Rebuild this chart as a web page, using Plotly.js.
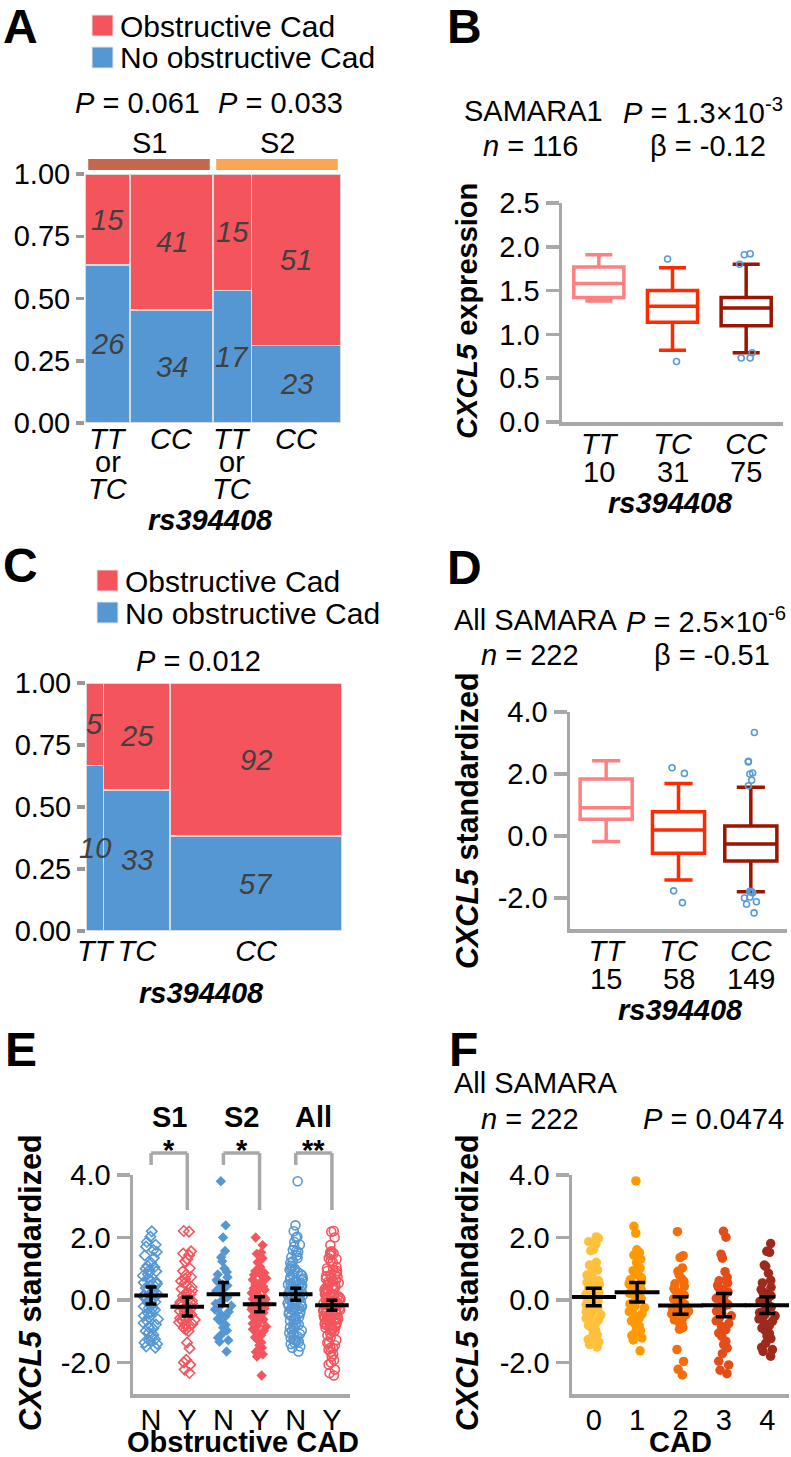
<!DOCTYPE html>
<html>
<head>
<meta charset="utf-8">
<script src="https://cdn.plot.ly/plotly-3.0.1.min.js"></script>
<style>
html, body { margin: 0; padding: 0; background: #fff; }
#fig { width: 791px; height: 1457px; }
</style>
</head>
<body>
<div id="fig"></div>
<script>
const W = 791, H = 1457;
const FONT = 'Liberation Sans, Arial, Helvetica, sans-serif';

// ---- A: mosaic, split by study ----
const studyA = ['S1', 'S1', 'S2', 'S2'];
const genoA = ['TT or TC', 'CC', 'TT or TC', 'CC'];
const obsA = [15, 41, 15, 51];
const noObsA = [26, 34, 17, 23];
const pA = ['0.061', '0.033'];

// ---- C: mosaic, all samara ----
const genoC = ['TT', 'TC', 'CC'];
const obsC = [5, 25, 92];
const noObsC = [10, 33, 57];

// ---- B: box stats, SAMARA1 ----
const genoB = ['TT', 'TC', 'CC'];
const nB = [10, 31, 75];
const lowB = [1.38, 0.82, 0.79];
const q1B = [1.42, 1.14, 1.10];
const medB = [1.58, 1.32, 1.30];
const q3B = [1.77, 1.50, 1.42];
const highB = [1.91, 1.76, 1.80];
const outB = [[], [1.86, 0.69], [1.92, 1.91, 1.80, 0.79, 0.73, 0.73]];

// ---- D: box stats, all SAMARA ----
const nD = [15, 58, 149];
const lowD = [-0.18, -1.42, -1.80];
const q1D = [0.54, -0.56, -0.81];
const medD = [0.91, 0.19, -0.26];
const q3D = [1.84, 0.78, 0.32];
const highD = [2.43, 1.69, 1.57];
const outD = [[], [2.02, 2.2, -1.77, -2.15],
  [3.34, 2.41, 2.39, 2.03, 2.0, 1.8, 1.62, -1.78, -1.8, -1.81, -1.83, -1.97, -2.0, -2.12, -2.2, -2.48]];

// ---- E: CXCL5 by obstructive CAD ----
const labelsE = ['N', 'Y', 'N', 'Y', 'N', 'Y'];
const s1N = [2.2, 2.03, 1.86, 1.77, 1.71, 1.6, 1.54, 1.43, 1.35, 1.19, 1.1, 1.05, 0.97, 0.92, 0.83, 0.78, 0.69, 0.64, 0.56, 0.52,
  0.47, 0.39, 0.36, 0.27, 0.23, 0.16, 0.12, 0.05, 0.01, -0.06, -0.1, -0.17, -0.2, -0.28, -0.31, -0.39, -0.43, -0.5, -0.54, -0.61,
  -0.66, -0.73, -0.78, -0.86, -0.91, -0.99, -1.04, -1.11, -1.16, -1.25, -1.29, -1.36, -1.4, -1.48, -1.52, 0.44, 0.13, -0.26, 0.58, 1.0];
const s1Y = [2.21, 2.19, 1.56, 1.49, 1.44, 1.31, 1.24, 1.02, 0.93, 0.81, 0.74, 0.68, 0.61, 0.55, 0.47, 0.42, 0.36, 0.3, 0.24, 0.19,
  0.13, 0.08, 0.03, -0.02, -0.06, -0.11, -0.15, -0.2, -0.24, -0.29, -0.33, -0.37, -0.41, -0.46, -0.5, -0.54, -0.58, -0.63, -0.67,
  -0.71, -0.76, -0.8, -0.85, -0.89, -0.94, -0.99, -0.35, -0.18, -0.6, -1.36, -1.54, -1.91, -1.99, -2.06, -2.22, -2.33];
const s2N = [3.8, 2.39, 2.0, 1.57, 1.37, 1.24, 1.01, 0.9, 0.82, 0.73, 0.64, 0.58, 0.5, 0.43, 0.35, 0.29, 0.22, 0.15, 0.09, 0.02,
  -0.05, -0.11, -0.18, -0.24, -0.3, -0.37, -0.45, -0.52, -0.6, -0.7, -0.79, -0.88, -0.97, -1.08, -1.2, -1.28, -1.33, -1.64, 0.47, -0.14];
const s2Y = [2.0, 1.76, 1.52, 1.48, 1.34, 1.21, 1.06, 0.98, 0.93, 0.87, 0.81, 0.76, 0.7, 0.65, 0.59, 0.54, 0.49, 0.44, 0.38, 0.33,
  0.28, 0.23, 0.18, 0.13, 0.08, 0.04, -0.01, -0.05, -0.09, -0.14, -0.18, -0.22, -0.27, -0.31, -0.35, -0.4, -0.44, -0.48, -0.53,
  -0.57, -0.62, -0.66, -0.71, -0.75, -0.8, -0.84, -0.89, -0.93, -0.98, -1.04, -1.12, -1.19, -1.27, -1.35, -1.44, -1.52, -1.58,
  -1.66, -1.73, -1.8, -2.41, -0.3, -0.12, 0.36, -0.6, 0.02];
const allN = s1N.concat(s2N);
const allY = s1Y.concat(s2Y);
const meanE = [0.15, -0.21, 0.19, -0.13, 0.19, -0.16];
const ciE = [0.27, 0.30, 0.37, 0.24, 0.19, 0.16];

// ---- F: CXCL5 by CAD score ----
const cadF = ['0', '1', '2', '3', '4'];
const f0 = [2.02, 1.98, 1.87, 1.79, 1.62, 1.58, 1.21, 1.12, 1.05, 0.96, 0.88, 0.8, 0.74, 0.69, 0.62, 0.57, 0.5, 0.46, 0.41, 0.35,
  0.31, 0.26, 0.2, 0.16, 0.12, 0.07, 0.03, -0.02, -0.06, -0.1, -0.15, -0.19, -0.24, -0.28, -0.33, -0.37, -0.42, -0.47, -0.52,
  -0.58, -0.63, -0.69, -0.75, -0.81, -0.88, -0.96, -1.03, -1.11, -1.19, -1.26, -1.34, -1.42, -1.5, 0.38, -0.21];
const f1 = [3.81, 2.36, 2.14, 1.61, 1.52, 1.44, 1.31, 1.2, 1.02, 0.94, 0.86, 0.79, 0.71, 0.65, 0.58, 0.52, 0.46, 0.4, 0.34, 0.28,
  0.22, 0.17, 0.11, 0.05, 0.0, -0.06, -0.12, -0.18, -0.24, -0.3, -0.37, -0.44, -0.51, -0.58, -0.66, -0.74, -0.83, -0.91, -0.98,
  -1.04, -1.13, -1.21, -1.27, -1.62, 0.3];
const f2 = [2.19, 1.42, 1.36, 1.03, 0.92, 0.81, 0.68, 0.6, 0.52, 0.44, 0.37, 0.3, 0.23, 0.16, 0.1, 0.04, -0.02, -0.08, -0.13,
  -0.19, -0.24, -0.3, -0.35, -0.41, -0.46, -0.52, -0.57, -0.63, -0.69, -0.75, -0.82, -0.88, -0.93, -1.58, -1.96, -2.21, -2.39,
  -0.27, -0.44, 0.07];
const f3 = [2.2, 2.01, 1.47, 1.34, 0.91, 0.73, 0.62, 0.55, 0.47, 0.4, 0.33, 0.26, 0.19, 0.12, 0.06, 0.0, -0.07, -0.14, -0.2,
  -0.27, -0.35, -0.42, -0.5, -0.58, -0.66, -0.75, -0.84, -0.94, -1.05, -1.16, -1.31, -1.42, -1.53, -1.71, -1.95, -2.07, -2.24, -2.35];
const f4 = [1.81, 1.56, 1.53, 1.12, 1.08, 0.86, 0.63, 0.55, 0.41, 0.34, 0.27, 0.2, 0.14, 0.08, 0.02, -0.04, -0.1, -0.16, -0.22,
  -0.28, -0.34, -0.4, -0.46, -0.53, -0.6, -0.67, -0.74, -0.81, -0.89, -0.97, -1.06, -1.15, -1.23, -1.38, -1.51, -1.58, -1.64, -1.79, -0.5];
const meanF = [0.10, 0.25, -0.17, -0.16, -0.16];
const ciF = [0.28, 0.31, 0.28, 0.37, 0.27];

// colours
const RED = '#f4555d', BLUE = '#5597d3', CELL_LINE = '#d9d9d9', NUMCOL = '#404040';
const GRAY = '#a8a8a8', OUTCOL = '#5b9bd5';
const boxCols = ['#ff8080', '#ff2a00', '#9b1500'];
const cadCols = ['#ffc13b', '#ff9900', '#f46d0a', '#e44d17', '#9e2a1c'];

const traces = [];
const annotations = [];
const shapes = [];

// paper helpers (pixel -> paper)
const dx = (a, b) => [a / W, b / W];
const dy = (top, bot) => [1 - bot / H, 1 - top / H];
const txtFont = {family: FONT, size: 29, color: '#000'};

function note(text, x, y, o) {
  const a = {text: text, x: x / W, y: 1 - y / H, xref: 'paper', yref: 'paper', showarrow: false,
    xanchor: 'center', yanchor: 'middle', font: txtFont};
  return annotations.push(Object.assign(a, o || {}));
}
// text placed on a data x position, pixel y
function noteAt(text, xref, x, y, font) {
  return annotations.push({text: text, x: x, xref: xref, y: 1 - y / H, yref: 'paper', showarrow: false,
    xanchor: 'center', yanchor: 'middle', font: font || txtFont});
}
const bigFont = {family: FONT, size: 48, color: '#000'};
const titleFont = {family: FONT, size: 30.5, color: '#000'};

// mosaic: every facet is 1 unit wide, cells share it by count
function mosaic(xa, ya, facet, obs, noObs) {
  const tot = obs.map((v, i) => v + noObs[i]);
  const facets = [...new Set(facet)];
  const facetTot = {}, used = {};
  facet.forEach((f, i) => { facetTot[f] = (facetTot[f] || 0) + tot[i]; });
  const xs = [], ws = [];
  facet.forEach((f, i) => {
    const w = tot[i] / facetTot[f];
    const start = facets.indexOf(f) + (used[f] || 0);
    xs.push(start + w / 2);
    ws.push(w);
    used[f] = (used[f] || 0) + w;
  });
  const fNo = noObs.map((v, i) => v / tot[i]);
  const fObs = obs.map((v, i) => v / tot[i]);
  traces.push({type: 'bar', x: xs, y: fNo, width: ws, xaxis: xa, yaxis: ya, hoverinfo: 'skip',
    marker: {color: BLUE, line: {color: CELL_LINE, width: 1.5}}});
  traces.push({type: 'bar', x: xs, y: fObs, width: ws, xaxis: xa, yaxis: ya, hoverinfo: 'skip',
    marker: {color: RED, line: {color: CELL_LINE, width: 1.5}}});
  const numFont = {family: FONT, size: 29, color: NUMCOL};
  xs.forEach((x, i) => {
    annotations.push({text: '<i>' + noObs[i] + '</i>', x: x, y: fNo[i] / 2, xref: xa, yref: ya,
      showarrow: false, xanchor: 'center', yanchor: 'middle', font: numFont});
    annotations.push({text: '<i>' + obs[i] + '</i>', x: x, y: fNo[i] + fObs[i] / 2, xref: xa, yref: ya,
      showarrow: false, xanchor: 'center', yanchor: 'middle', font: numFont});
  });
  return {xs: xs, facets: facets};
}

function legend(x, yTop, gap) {
  shapes.push({type: 'rect', xref: 'paper', yref: 'paper', x0: x / W, x1: (x + 21) / W,
    y0: 1 - (yTop + 21) / H, y1: 1 - yTop / H, fillcolor: RED, line: {color: '#e6e6e6', width: 1}});
  shapes.push({type: 'rect', xref: 'paper', yref: 'paper', x0: x / W, x1: (x + 21) / W,
    y0: 1 - (yTop + gap + 21) / H, y1: 1 - (yTop + gap) / H, fillcolor: BLUE, line: {color: '#e6e6e6', width: 1}});
  note('Obstructive Cad', x + 26, yTop + 11, {xanchor: 'left', font: {family: FONT, size: 30, color: '#000'}});
  note('No obstructive Cad', x + 26, yTop + gap + 11, {xanchor: 'left', font: {family: FONT, size: 30, color: '#000'}});
}

// ---------- A ----------
const mA = mosaic('x', 'y', studyA, obsA, noObsA);
const studyCols = ['#c4674f', '#fba652'];
mA.facets.forEach((f, k) => {
  shapes.push({type: 'rect', xref: 'x', yref: 'y domain', x0: k + 0.025, x1: k + 0.975, y0: 1.016, y1: 1.06,
    fillcolor: studyCols[k], line: {width: 0}});
  noteAt(f, 'x', k + 0.5, 143);
});
note('<i>P</i> = ' + pA[0], 137, 103);
note('<i>P</i> = ' + pA[1], 280, 103);
mA.xs.forEach((x, i) => {
  const parts = genoA[i].split(' or ');
  noteAt('<i>' + parts[0] + '</i>', 'x', x, 439);
  if (parts.length > 1) {
    noteAt('or', 'x', x, 462);
    noteAt('<i>' + parts[1] + '</i>', 'x', x, 489);
  }
});
note('<b><i>rs394408</i></b>', 210, 520);
legend(92, 15, 32);
note('<b>A</b>', 1, 27, {xanchor: 'left', font: bigFont});

// ---------- C ----------
const mC = mosaic('x3', 'y3', ['all', 'all', 'all'], obsC, noObsC);
note('<i>P</i> = 0.012', 198, 661);
note('<b><i>rs394408</i></b>', 201, 993);
legend(97, 570, 32);
note('<b>C</b>', 1, 565, {xanchor: 'left', font: bigFont});

// ---------- B / D boxes ----------
function boxes(xa, ya, low, q1, med, q3, high, outs, width) {
  low.forEach((v, i) => {
    traces.push({type: 'box', x: [i], lowerfence: [low[i]], q1: [q1[i]], median: [med[i]], q3: [q3[i]],
      upperfence: [high[i]], width: width, whiskerwidth: 0.54, boxpoints: false, xaxis: xa, yaxis: ya,
      line: {color: boxCols[i], width: 3.5}, fillcolor: 'rgba(255,255,255,0)', hoverinfo: 'skip'});
  });
  outs.forEach((o, i) => {
    if (!o.length) return;
    traces.push({type: 'box', x0: i, y: o, boxpoints: 'all', jitter: 0.7, pointpos: 0, width: 0.3,
      xaxis: xa, yaxis: ya, line: {width: 0}, fillcolor: 'rgba(0,0,0,0)', whiskerwidth: 0, hoverinfo: 'skip',
      marker: {symbol: 'circle-open', size: 6, color: OUTCOL, line: {width: 1.6, color: OUTCOL}}});
  });
}
boxes('x2', 'y2', lowB, q1B, medB, q3B, highB, outB, 0.68);
boxes('x4', 'y4', lowD, q1D, medD, q3D, highD, outD, 0.72);

note('SAMARA1', 533, 111);
note('<i>P</i> = 1.3×10<sup>-3</sup>', 621, 111, {xanchor: 'left'});
note('<i>n</i> = 116', 530, 146);
note('β = -0.12', 708, 146);
nB.forEach((n, i) => noteAt(String(n), 'x2', i, 472));
note('<b><i>rs394408</i></b>', 670, 503);
note('<b><i>CXCL5</i> expression</b>', 467, 311, {textangle: -90, font: {family: FONT, size: 29, color: '#000'}});
note('<b>B</b>', 445, 27, {xanchor: 'left', font: bigFont});

note('All SAMARA', 535, 620);
note('<i>P</i> = 2.5×10<sup>-6</sup>', 624, 620, {xanchor: 'left'});
note('<i>n</i> = 222', 530, 655);
note('β = -0.51', 712, 655);
nD.forEach((n, i) => noteAt(String(n), 'x4', i, 979));
note('<b><i>rs394408</i></b>', 680, 1010);
note('<b><i>CXCL5</i> standardized</b>', 467, 821, {textangle: -90, font: titleFont});
note('<b>D</b>', 445, 568, {xanchor: 'left', font: bigFont});

// ---------- E / F strips ----------
function strip(xa, ya, i, vals, color, symbol, size, width) {
  const open = symbol.indexOf('open') >= 0;
  traces.push({type: 'box', x0: i, y: vals, boxpoints: 'all', jitter: 1, pointpos: 0, width: width,
    xaxis: xa, yaxis: ya, line: {width: 0}, fillcolor: 'rgba(0,0,0,0)', whiskerwidth: 0, hoverinfo: 'skip',
    marker: {symbol: symbol, size: size, color: color, line: {width: open ? 1.6 : 0, color: color}}});
}
const groupsE = [s1N, s1Y, s2N, s2Y, allN, allY];
const symE = ['diamond-open', 'diamond-open', 'diamond', 'diamond', 'circle-open', 'circle-open'];
groupsE.forEach((g, i) => strip('x5', 'y5', i, g, i % 2 ? RED : BLUE, symE[i], symE[i].startsWith('circle') ? 9 : 8, 0.5));
traces.push({type: 'scatter', mode: 'markers', x: labelsE.map((l, i) => i), y: meanE, xaxis: 'x5', yaxis: 'y5',
  marker: {symbol: 'line-ew-open', size: 24, color: '#000', line: {width: 4, color: '#000'}},
  error_y: {type: 'data', array: ciE, thickness: 3.5, width: 5.5, color: '#000'}, hoverinfo: 'skip'});

const groupsF = [f0, f1, f2, f3, f4];
groupsF.forEach((g, i) => strip('x6', 'y6', i, g, cadCols[i], 'circle', 9.5, 0.42));
traces.push({type: 'scatter', mode: 'markers', x: cadF.map((c, i) => i), y: meanF, xaxis: 'x6', yaxis: 'y6',
  marker: {symbol: 'line-ew-open', size: 32, color: '#000', line: {width: 4, color: '#000'}},
  error_y: {type: 'data', array: ciF, thickness: 3.5, width: 8, color: '#000'}, hoverinfo: 'skip'});

// brackets + stars above E
const studiesE = ['S1', 'S2', 'All'];
const starsE = ['*', '*', '**'];
studiesE.forEach((s, k) => {
  const a = 2 * k, b = 2 * k + 1;
  const ln = {color: GRAY, width: 3.5};
  shapes.push({type: 'line', xref: 'x5', yref: 'y5 domain', x0: a, x1: a, y0: 1.046, y1: 1.1, line: ln});
  shapes.push({type: 'line', xref: 'x5', yref: 'y5 domain', x0: a, x1: b, y0: 1.1, y1: 1.1, line: ln});
  shapes.push({type: 'line', xref: 'x5', yref: 'y5 domain', x0: b, x1: b, y0: 0.84, y1: 1.1, line: ln});
  noteAt('<b>' + s + '</b>', 'x5', a + 0.5, 1117);
  noteAt('<b>' + starsE[k] + '</b>', 'x5', a + 0.5, 1150);
});
note('<b>Obstructive CAD</b>', 243, 1442);
note('<b><i>CXCL5</i> standardized</b>', 30, 1283, {textangle: -90, font: titleFont});
note('<b>E</b>', 3, 1049, {xanchor: 'left', font: bigFont});

note('All SAMARA', 535, 1083);
note('<i>n</i> = 222', 530, 1119);
note('<i>P</i> = 0.0474', 713, 1119);
note('<b>CAD</b>', 680, 1442);
note('<b><i>CXCL5</i> standardized</b>', 467, 1283, {textangle: -90, font: titleFont});
note('<b>F</b>', 447, 1049, {xanchor: 'left', font: bigFont});

// ---------- axes ----------
const tickFont = {family: FONT, size: 29, color: '#000'};
const fmt = (v, d) => v.toFixed(d);
function mosaicY(domain) {
  const tv = [0, 0.25, 0.5, 0.75, 1];
  return {domain: domain, range: [0, 1], tickvals: tv, ticktext: tv.map(v => fmt(v, 2)), ticks: 'outside',
    ticklen: 8, tickwidth: 3.5, tickcolor: '#999', showline: false, showgrid: false, zeroline: false, tickfont: tickFont};
}
function valY(domain, range, tv, anchor) {
  return {domain: domain, range: range, tickvals: tv, ticktext: tv.map(v => fmt(v, 1)), ticks: 'outside',
    ticklen: 13, tickwidth: 3.5, tickcolor: GRAY, showline: true, linecolor: GRAY, linewidth: 3.5,
    showgrid: false, zeroline: false, tickfont: tickFont, anchor: anchor};
}
function catX(domain, n, text, anchor, standoff) {
  return {domain: domain, range: [-0.5, n - 0.5], tickvals: text.map((t, i) => i), ticktext: text, ticks: '',
    showline: true, linecolor: GRAY, linewidth: 3.5, showgrid: false, zeroline: false, tickfont: tickFont,
    ticklabelstandoff: standoff, anchor: anchor};
}

const layout = {
  width: W, height: H, margin: {l: 0, r: 0, t: 0, b: 0},
  paper_bgcolor: '#fff', plot_bgcolor: 'rgba(0,0,0,0)',
  showlegend: false, barmode: 'stack', boxmode: 'overlay', hovermode: false,
  font: {family: FONT, color: '#000'},
  xaxis: {domain: dx(85, 341), range: [0, 2], showticklabels: false, showgrid: false, zeroline: false, anchor: 'y'},
  yaxis: Object.assign(mosaicY(dy(174, 423)), {anchor: 'x'}),
  xaxis3: {domain: dx(86, 342), range: [0, 1], tickvals: mC.xs, ticktext: genoC.map(g => '<i>' + g + '</i>'),
    ticks: '', showgrid: false, zeroline: false, tickfont: tickFont, anchor: 'y3'},
  yaxis3: Object.assign(mosaicY(dy(683, 931)), {anchor: 'x3'}),
  xaxis2: catX(dx(562, 783), 3, genoB.map(g => '<i>' + g + '</i>'), 'y2', -6),
  yaxis2: valY(dy(203, 422), [0, 2.5], [0, 0.5, 1, 1.5, 2, 2.5], 'x2'),
  xaxis4: catX(dx(570, 787), 3, genoB.map(g => '<i>' + g + '</i>'), 'y4', -6),
  yaxis4: valY(dy(712, 929), [-3, 4], [-2, 0, 2, 4], 'x4'),
  xaxis5: catX(dx(133, 350), 6, labelsE, 'y5', -2),
  yaxis5: valY(dy(1175, 1394), [-3, 4], [-2, 0, 2, 4], 'x5'),
  xaxis6: catX(dx(572, 789), 5, cadF, 'y6', -2),
  yaxis6: valY(dy(1175, 1394), [-3, 4], [-2, 0, 2, 4], 'x6'),
  annotations: annotations,
  shapes: shapes
};

Plotly.newPlot('fig', traces, layout, {staticPlot: true});
</script>
</body>
</html>
